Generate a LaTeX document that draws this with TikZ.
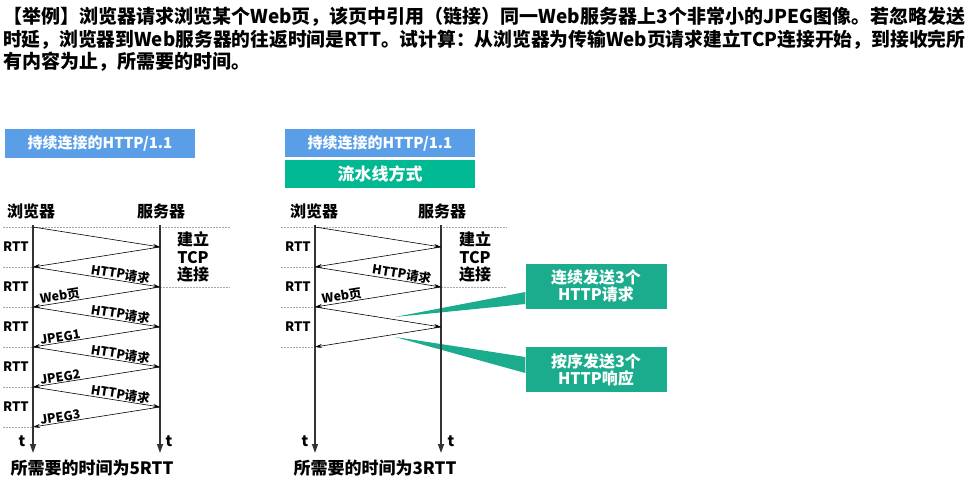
\documentclass[tikz,border=0pt]{standalone}
\usepackage{fontspec}
\setmainfont{Noto Sans CJK SC}
\usetikzlibrary{arrows.meta}
\definecolor{hblue}{RGB}{91,158,232}
\definecolor{hgreen}{RGB}{0,184,146}
\definecolor{cgreen}{RGB}{26,172,140}
\newcommand{\fs}[1]{\fontsize{#1}{#1}\selectfont}
\newcommand{\fitw}[2]{\resizebox{#1}{\height}{#2}}
\tikzset{
  msg/.style={draw=black, line width=0.6pt, -{Stealth[length=7pt,width=4pt]}},
  taxis/.style={draw=black!80, line width=1.3pt, -{Triangle[length=9pt,width=6pt]}},
  dl/.style={draw=black!35, line width=0.5pt, dash pattern=on 1.5pt off 1.5pt},
  lab/.style={font=\bfseries\fs{12.5}, inner sep=0.5pt},
  rtt/.style={font=\bfseries\fs{13}, inner sep=0pt},
  hdr/.style={font=\bfseries\fs{16}, inner sep=0pt},
  tlab/.style={font=\bfseries\fs{15}, inner sep=0pt},
  bar/.style={minimum width=190pt, minimum height=28pt, inner sep=0pt, text=white, font=\bfseries\fs{15}},
  callout/.style={fill=cgreen, text=white, font=\bfseries\fs{16}, minimum width=141pt, minimum height=45pt, align=center, inner sep=0pt},
  ttl/.style={font=\bfseries\fs{19}, inner sep=0pt, anchor=west},
  tcp/.style={font=\bfseries\fs{16}, align=center, inner sep=0pt},
}
\begin{document}
\begin{tikzpicture}[x=1pt,y=-1pt]
\useasboundingbox (0,0) rectangle (971,484);
% title
\node[ttl] (t1) at (3,17) {\fitw{962pt}{【举例】浏览器请求浏览某个Web页，该页中引用（链接）同一Web服务器上3个非常小的JPEG图像。若忽略发送}};
\node[ttl] (t2) at (3,40) {\fitw{962pt}{时延，浏览器到Web服务器的往返时间是RTT。试计算：从浏览器为传输Web页请求建立TCP连接开始，到接收完所}};
\node[ttl] (t3) at (3,62) {有内容为止，所需要的时间。};

% ===== left diagram =====
\node[bar, fill=hblue] (lbar) at (100,143.5) {持续连接的HTTP/1.1};
\node[hdr] (lb) at (31,211) {浏览器};
\node[hdr] (ls) at (161,211) {服务器};
\foreach \i in {0,...,5} \coordinate (LB\i) at (33,227+40*\i);
\foreach \i in {0,...,4} \coordinate (LS\i) at (160,247+40*\i);
\coordinate (LBtop) at (33,225);
\coordinate (LBbot) at (33,453);
\coordinate (LStop) at (160,225);
\coordinate (LSbot) at (160,453);
% dashed
\coordinate (LD0a) at (3,227); \coordinate (LD0b) at (230,227);
\draw[dl] (LD0a) -- (LD0b);
\foreach \i in {1,...,5} {\coordinate (LDa\i) at (3,227+40*\i); \draw[dl] (LDa\i) -- (LB\i);}
\coordinate (LDr) at (230,287);
\draw[dl] (LS1) -- (LDr);
\draw[taxis] (LBtop) -- (LBbot);
\draw[taxis] (LStop) -- (LSbot);
\node[tlab] (lt1) at (22,441) {t};
\node[tlab] (lt2) at (169,441) {t};
\draw[msg] (LB0) -- (LS0);
\draw[msg] (LS0) -- (LB1);
\draw[msg] (LB1) -- node[lab, pos=0.68, above, sloped] {HTTP请求} (LS1);
\draw[msg] (LS1) -- node[lab, pos=0.78, above, sloped] {Web页} (LB2);
\draw[msg] (LB2) -- node[lab, pos=0.68, above, sloped] {HTTP请求} (LS2);
\draw[msg] (LS2) -- node[lab, pos=0.78, above, sloped] {JPEG1} (LB3);
\draw[msg] (LB3) -- node[lab, pos=0.68, above, sloped] {HTTP请求} (LS3);
\draw[msg] (LS3) -- node[lab, pos=0.78, above, sloped] {JPEG2} (LB4);
\draw[msg] (LB4) -- node[lab, pos=0.68, above, sloped] {HTTP请求} (LS4);
\draw[msg] (LS4) -- node[lab, pos=0.78, above, sloped] {JPEG3} (LB5);
\foreach \i in {0,...,4} \node[rtt] (lr\i) at (16,247+40*\i) {RTT};
\node[tcp] (ltcp) at (193,257) {建立\\[1.5pt]TCP\\[1.5pt]连接};
\node[font=\bfseries\fs{17}, inner sep=0pt] (lres) at (92,468) {所需要的时间为5RTT};

% ===== right diagram =====
\node[bar, fill=hblue] (rbar) at (380,143) {持续连接的HTTP/1.1};
\node[bar, fill=hgreen, font=\bfseries\fs{17}] (rbar2) at (380,174) {流水线方式};
\node[hdr] (rb) at (314,211) {浏览器};
\node[hdr] (rs) at (442,211) {服务器};
\foreach \i in {0,...,3} \coordinate (RB\i) at (315,227+40*\i);
\foreach \i in {0,...,2} \coordinate (RS\i) at (441,247+40*\i);
\coordinate (RBtop) at (315,225);
\coordinate (RBbot) at (315,453);
\coordinate (RStop) at (441,225);
\coordinate (RSbot) at (441,453);
% callouts
\node[callout] (c1) at (596,286) {连续发送3个\\[1pt]HTTP请求};
\node[callout] (c2) at (596,369.5) {按序发送3个\\[1pt]HTTP响应};
\coordinate (w1) at (395,317);
\coordinate (w2) at (395,337);
\fill[cgreen] (w1) -- (c1.west |- 0,292) -- (c1.west |- 0,304) -- cycle;
\fill[cgreen] (w2) -- (c2.west |- 0,357) -- (c2.west |- 0,373) -- cycle;
% dashed
\coordinate (RD0a) at (281,227); \coordinate (RD0b) at (507,227);
\draw[dl] (RD0a) -- (RD0b);
\foreach \i in {1,...,3} {\coordinate (RDa\i) at (281,227+40*\i); \draw[dl] (RDa\i) -- (RB\i);}
\coordinate (RDr) at (507,287);
\draw[dl] (RS1) -- (RDr);
\draw[taxis] (RBtop) -- (RBbot);
\draw[taxis] (RStop) -- (RSbot);
\node[tlab] (rt1) at (305,441) {t};
\node[tlab] (rt2) at (451,441) {t};
\draw[msg] (RB0) -- (RS0);
\draw[msg] (RS0) -- (RB1);
\draw[msg] (RB1) -- node[lab, pos=0.68, above, sloped] {HTTP请求} (RS1);
\draw[msg] (RS1) -- node[lab, pos=0.78, above, sloped] {Web页} (RB2);
\draw[msg] (RB2) -- (RS2);
\draw[msg] (RS2) -- (RB3);
\foreach \i in {0,...,2} \node[rtt] (rr\i) at (298,247+40*\i) {RTT};
\node[tcp] (rtcp) at (475,257) {建立\\[1.5pt]TCP\\[1.5pt]连接};
\node[font=\bfseries\fs{17}, inner sep=0pt] (rres) at (375,468) {所需要的时间为3RTT};
\end{tikzpicture}
\end{document}
